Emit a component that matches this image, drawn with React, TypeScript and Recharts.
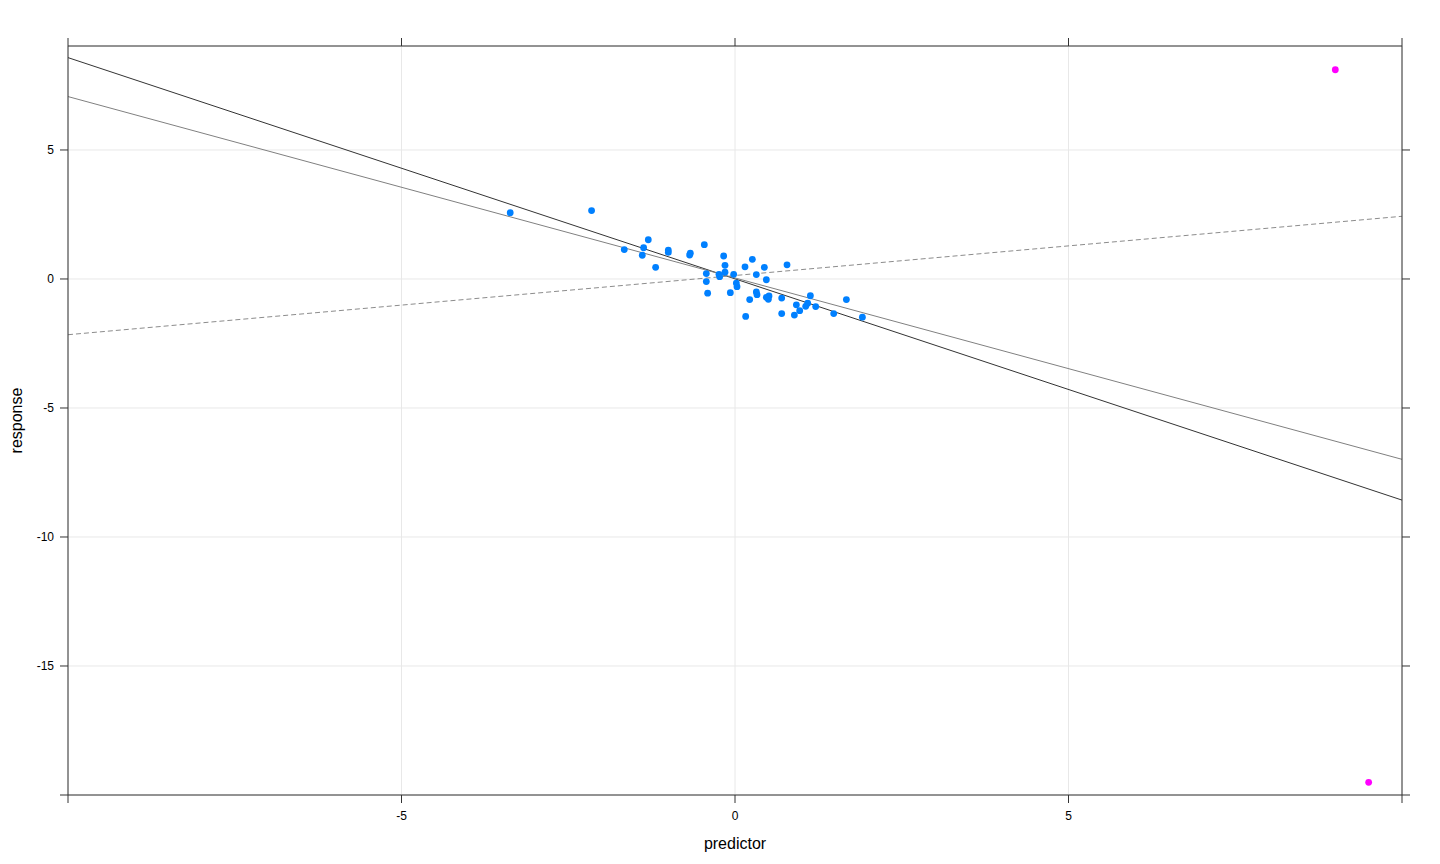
import { ScatterChart, Scatter, XAxis, YAxis, CartesianGrid, ReferenceLine } from 'recharts';

// main cloud of observations
const predictorX = [
  -3.37, -2.15, -1.66, -1.37, -1.3, -1.39, -1.19, -1.0, -1.0, -0.67, -0.68, -0.46, -0.17, 0.26, 0.78, 0.15, 0.44,
  -0.15, -0.43, -0.24, -0.23, -0.15, -0.02, 0.32, -0.43, 0.02, 0.03, 0.47, -0.41, -0.07, 0.32, 0.33, 0.22, 0.47,
  0.51, 0.5, 0.7, 1.13, 1.67, 0.92, 1.09, 1.06, 1.21, 0.97, 0.7, 0.89, 1.48, 1.91, 0.16
];
const responseY = [
  2.57, 2.65, 1.14, 1.21, 1.52, 0.92, 0.45, 1.12, 1.03, 1.0, 0.93, 1.33, 0.89, 0.76, 0.55, 0.47, 0.45,
  0.53, 0.21, 0.18, 0.09, 0.26, 0.18, 0.17, -0.1, -0.16, -0.3, -0.03, -0.55, -0.53, -0.5, -0.61, -0.8, -0.71,
  -0.66, -0.79, -0.74, -0.65, -0.8, -1.0, -0.94, -1.06, -1.07, -1.23, -1.34, -1.4, -1.34, -1.48, -1.45
];

// the two outliers
const outlierX = [9.0, 9.5];
const outlierY = [8.11, -19.51];

// fitted lines, read at both ends of the x range
const fitX = [-10, 10];
const fitAll = [8.58, -8.57];
const fitRobust = [7.07, -6.99];
const fitClean = [-2.16, 2.43];

const xTicks = [-10, -5, 0, 5, 10];
const yTicks = [-20, -15, -10, -5, 0, 5];

const points = predictorX.map((x, i) => ({ x, y: responseY[i] }));
const outliers = outlierX.map((x, i) => ({ x, y: outlierY[i] }));
const seg = (ys: number[]) => fitX.map((x, i) => ({ x, y: ys[i] }));

const dot = (color: string) => (props: any) => (
  <circle cx={props.cx} cy={props.cy} r={3.4} fill={color} />
);
const noDot = () => <g />;

const frame = '#333333';

export default function App() {
  return (
    <div style={{ position: 'absolute', left: 0, top: 0, fontFamily: '"Liberation Sans", Arial, sans-serif' }}>
      <ScatterChart width={1440} height={864} margin={{ top: 38, right: 30, bottom: 0, left: 0 }}>
        <CartesianGrid stroke="#e8e8e8" />
        <XAxis
          type="number"
          dataKey="x"
          domain={[-10, 10]}
          ticks={xTicks}
          interval={0}
          allowDataOverflow
          height={69}
          stroke={frame}
          tickSize={8}
          tickMargin={8}
          tick={{ fontSize: 12, fill: '#000' }}
          tickFormatter={(v: number) => (Math.abs(v) === 10 ? '' : String(v))}
          label={{ value: 'predictor', position: 'insideBottom', offset: 15, fontSize: 16, fill: '#000' }}
        />
        <XAxis
          xAxisId="top"
          orientation="top"
          type="number"
          dataKey="x"
          domain={[-10, 10]}
          ticks={xTicks}
          interval={0}
          allowDataOverflow
          height={8}
          stroke={frame}
          tickSize={8}
          tickFormatter={() => ''}
        />
        <YAxis
          type="number"
          dataKey="y"
          domain={[-20, 9.03]}
          ticks={yTicks}
          interval={0}
          allowDataOverflow
          width={68}
          stroke={frame}
          tickSize={8}
          tickMargin={6}
          tick={{ fontSize: 12, fill: '#000' }}
          tickFormatter={(v: number) => (v === -20 ? '' : String(v))}
          label={{
            value: 'response',
            angle: -90,
            position: 'insideLeft',
            offset: 16,
            fontSize: 16,
            fill: '#000',
            style: { textAnchor: 'middle' }
          }}
        />
        <YAxis
          yAxisId="right"
          orientation="right"
          type="number"
          dataKey="y"
          domain={[-20, 9.03]}
          ticks={yTicks}
          interval={0}
          allowDataOverflow
          width={8}
          stroke={frame}
          tickSize={8}
          tickFormatter={() => ''}
        />
        {/* invisible copy so the top and right axes get drawn */}
        <Scatter data={points} xAxisId="top" yAxisId="right" shape={noDot} isAnimationActive={false} />
        <Scatter data={points} shape={dot('#0080ff')} isAnimationActive={false} />
        <Scatter data={outliers} shape={dot('#ff00ff')} isAnimationActive={false} />
        <ReferenceLine segment={seg(fitAll)} stroke="#333333" strokeWidth={1} />
        <ReferenceLine segment={seg(fitRobust)} stroke="#808080" strokeWidth={1} />
        <ReferenceLine segment={seg(fitClean)} stroke="#8c8c8c" strokeWidth={1} strokeDasharray="5 3" />
      </ScatterChart>
    </div>
  );
}
